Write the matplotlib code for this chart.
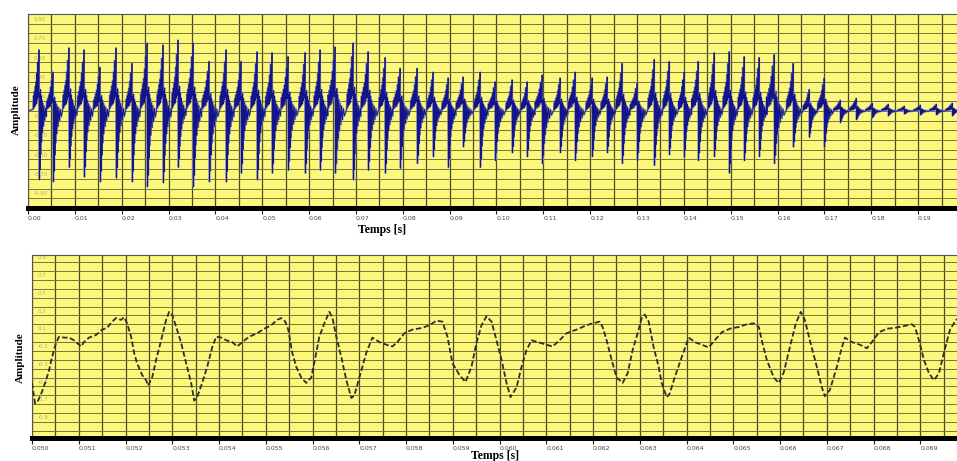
import matplotlib
matplotlib.use("Agg")
import matplotlib.pyplot as plt
import numpy as np

# ---- full utterance: one entry per glottal cycle (time of main peak, s) ----
spike_t = [0.00235, 0.00534, 0.00875, 0.01196, 0.01537, 0.01879, 0.02220, 0.02541,
           0.02882, 0.03202, 0.03523, 0.03864, 0.04227, 0.04547, 0.04889, 0.05209,
           0.05551, 0.05914, 0.06234, 0.06554, 0.06938, 0.07259, 0.07622, 0.07942,
           0.08305, 0.08646, 0.08967, 0.09287, 0.09650, 0.09970, 0.10333, 0.10653,
           0.10974, 0.11358, 0.11678, 0.12041, 0.12361, 0.12681, 0.13002, 0.13365,
           0.13685, 0.14005, 0.14304, 0.14646, 0.14966, 0.15286, 0.15606, 0.15926,
           0.16332, 0.16674, 0.16994, 0.17336, 0.17677, 0.18019, 0.18360, 0.18702,
           0.19044, 0.19385, 0.19727]
spike_pos = [0.63, 0.40, 0.65, 0.63, 0.45, 0.65, 0.49, 0.70, 0.68, 0.73, 0.70, 0.51,
             0.63, 0.51, 0.61, 0.60, 0.56, 0.60, 0.63, 0.66, 0.70, 0.61, 0.55, 0.44,
             0.44, 0.40, 0.34, 0.35, 0.40, 0.30, 0.32, 0.30, 0.37, 0.34, 0.40, 0.34,
             0.35, 0.49, 0.29, 0.53, 0.51, 0.40, 0.51, 0.60, 0.61, 0.56, 0.55, 0.58,
             0.49, 0.22, 0.34, 0.11, 0.13, 0.08, 0.07, 0.05, 0.06, 0.07, 0.08]
spike_neg = [-0.71, -0.73, -0.58, -0.68, -0.73, -0.69, -0.73, -0.78, -0.74, -0.58,
             -0.78, -0.73, -0.73, -0.64, -0.71, -0.64, -0.61, -0.64, -0.61, -0.64,
             -0.71, -0.61, -0.64, -0.59, -0.54, -0.47, -0.58, -0.37, -0.58, -0.51,
             -0.43, -0.47, -0.54, -0.43, -0.51, -0.47, -0.43, -0.54, -0.51, -0.56,
             -0.45, -0.47, -0.51, -0.47, -0.64, -0.51, -0.47, -0.54, -0.37, -0.27,
             -0.37, -0.12, -0.09, -0.07, -0.05, -0.03, -0.04, -0.04, -0.05]

# relative shape of one cycle: position as fraction of the period, weight of peak
cycle_frac = [-0.42, -0.39, -0.36, -0.33, -0.30, -0.27, -0.24, -0.21, -0.18, -0.15,
              -0.12, -0.09, -0.06, -0.03, 0.00, 0.025, 0.05, 0.075, 0.10, 0.125,
              0.15, 0.18, 0.21, 0.24, 0.28, 0.32, 0.36, 0.41, 0.46, 0.52]
cycle_w = [0.03, 0.25, 0.05, 0.32, 0.08, 0.40, 0.10, 0.48, 0.12, 0.62,
           0.18, 0.80, 0.22, 0.45, 1.00, -1.00, 0.30, -0.85, 0.35, -0.62,
           0.25, -0.45, 0.18, -0.32, 0.12, -0.22, 0.08, -0.14, 0.04, -0.08]

# ---- zoomed excerpt 0.050 - 0.070 s (time in ms, amplitude) ----
zoom_ms = [50.000, 50.064, 50.128, 50.214, 50.300, 50.364, 50.428, 50.514, 50.578, 50.685,
           50.792, 50.899, 50.964, 51.049, 51.113, 51.221, 51.370, 51.499, 51.606, 51.713,
           51.799, 51.906, 51.970, 52.034, 52.120, 52.184, 52.248, 52.355, 52.441, 52.484,
           52.570, 52.655, 52.762, 52.869, 52.934, 52.998, 53.084, 53.191, 53.298, 53.405,
           53.469, 53.533, 53.640, 53.747, 53.854, 53.940, 54.047, 54.154, 54.283, 54.390,
           54.497, 54.647, 54.818, 54.968, 55.118, 55.246, 55.332, 55.418, 55.482, 55.567,
           55.653, 55.760, 55.867, 55.974, 56.081, 56.146, 56.253, 56.360, 56.424, 56.510,
           56.617, 56.724, 56.831, 56.895, 57.002, 57.152, 57.281, 57.430, 57.580, 57.709,
           57.816, 57.966, 58.137, 58.351, 58.501, 58.651, 58.779, 58.887, 58.994, 59.143,
           59.272, 59.400, 59.507, 59.615, 59.722, 59.829, 59.936, 60.043, 60.150, 60.236,
           60.364, 60.471, 60.578, 60.685, 60.814, 61.006, 61.135, 61.285, 61.435, 61.649,
           61.863, 61.991, 62.141, 62.206, 62.291, 62.398, 62.505, 62.634, 62.741, 62.848,
           62.955, 63.041, 63.105, 63.191, 63.298, 63.405, 63.469, 63.576, 63.640, 63.747,
           63.897, 64.047, 64.176, 64.325, 64.475, 64.604, 64.754, 64.925, 65.118, 65.289,
           65.439, 65.546, 65.610, 65.717, 65.867, 65.974, 66.081, 66.210, 66.338, 66.445,
           66.531, 66.638, 66.788, 66.895, 66.959, 67.066, 67.216, 67.323, 67.388, 67.537,
           67.709, 67.859, 67.966, 68.116, 68.287, 68.458, 68.651, 68.822, 68.887, 68.972,
           69.079, 69.186, 69.293, 69.400, 69.507, 69.636, 69.743, 69.786]
zoom_amp = [-0.46, -0.69, -0.66, -0.56, -0.43, -0.32, -0.17, -0.01, 0.06, 0.05,
            0.05, 0.02, -0.01, -0.05, 0.00, 0.05, 0.08, 0.14, 0.16, 0.23,
            0.27, 0.25, 0.28, 0.21, 0.06, -0.12, -0.24, -0.37, -0.43, -0.49,
            -0.40, -0.20, 0.02, 0.25, 0.34, 0.31, 0.17, -0.01, -0.24, -0.46,
            -0.66, -0.62, -0.46, -0.28, -0.06, 0.06, 0.05, 0.02, 0.00, -0.05,
            0.00, 0.06, 0.10, 0.15, 0.19, 0.25, 0.27, 0.23, 0.14, -0.12,
            -0.28, -0.40, -0.46, -0.40, -0.12, 0.06, 0.21, 0.34, 0.28, 0.06,
            -0.17, -0.43, -0.63, -0.60, -0.40, -0.12, 0.05, 0.00, -0.03, -0.05,
            0.00, 0.10, 0.14, 0.16, 0.19, 0.24, 0.23, 0.06, -0.24, -0.37,
            -0.45, -0.28, -0.01, 0.19, 0.29, 0.23, 0.02, -0.20, -0.46, -0.62,
            -0.51, -0.28, -0.09, 0.02, 0.00, -0.03, -0.05, 0.02, 0.10, 0.14,
            0.19, 0.21, 0.23, 0.17, 0.02, -0.20, -0.40, -0.46, -0.35, -0.09,
            0.10, 0.27, 0.31, 0.23, -0.06, -0.28, -0.46, -0.62, -0.58, -0.40,
            -0.17, 0.05, 0.00, -0.03, -0.06, 0.02, 0.11, 0.15, 0.17, 0.20,
            0.21, 0.17, 0.02, -0.20, -0.40, -0.46, -0.34, -0.06, 0.21, 0.34,
            0.25, 0.02, -0.28, -0.51, -0.61, -0.54, -0.28, -0.06, 0.05, 0.00,
            -0.03, -0.07, 0.00, 0.11, 0.15, 0.16, 0.18, 0.20, 0.17, 0.02,
            -0.20, -0.35, -0.43, -0.35, -0.12, 0.14, 0.23, 0.26]

top_ticks = [0.00, 0.01, 0.02, 0.03, 0.04, 0.05, 0.06, 0.07, 0.08, 0.09,
             0.10, 0.11, 0.12, 0.13, 0.14, 0.15, 0.16, 0.17, 0.18, 0.19]
bottom_ticks_ms = [50, 51, 52, 53, 54, 55, 56, 57, 58, 59,
                   60, 61, 62, 63, 64, 65, 66, 67, 68, 69]
top_ylabels = [0.9, 0.7, 0.5, 0.3, 0.1, -0.1, -0.3, -0.5, -0.7, -0.9]
bottom_ylabels = [0.9, 0.7, 0.5, 0.3, 0.1, -0.1, -0.3, -0.5, -0.7, -0.9]

# ---- build the waveform of the full utterance from the cycle table ----
wt, wv = [0.0], [0.0]
for k, s in enumerate(spike_t):
    period = (spike_t[k + 1] - s) if k + 1 < len(spike_t) else (s - spike_t[k - 1])
    for f, w in zip(cycle_frac, cycle_w):
        wt.append(s + f * period)
        wv.append(w * spike_pos[k] if w >= 0 else -w * spike_neg[k])
wt = np.array(wt)
wv = np.array(wv)
order = np.argsort(wt)
wt, wv = wt[order], wv[order]

YELLOW = "#fbf87c"
GRID_V = "#4a4a28"
GRID_H = "#76743f"

fig = plt.figure(figsize=(9.57, 4.61), dpi=100)
fig.patch.set_facecolor("white")

W, H = 957.0, 461.0
ax1 = fig.add_axes([28 / W, 1 - 208 / H, 1 - 28 / W, (208 - 14) / H])
ax2 = fig.add_axes([32 / W, 1 - 438 / H, 1 - 32 / W, (438 - 255) / H])


def style(ax, xlim, ylim, vgrid, hgrid, major, minor, labels, ylab_vals, ylab_fmt):
    ax.set_facecolor(YELLOW)
    ax.set_xlim(*xlim)
    ax.set_ylim(*ylim)
    for x in vgrid:
        ax.axvline(x, color=GRID_V, lw=0.9, zorder=1)
    for y in hgrid:
        ax.axhline(y, color=GRID_H, lw=0.7, zorder=1)
    ax.set_xticks(major)
    ax.set_xticks(minor, minor=True)
    ax.set_xticklabels(labels, fontsize=4.5, color="#444444")
    for lbl in ax.get_xticklabels():
        lbl.set_ha("left")
    ax.tick_params(axis="x", which="major", length=4, width=0.8, color="#222222", pad=1.5)
    ax.tick_params(axis="x", which="minor", length=1.5, width=0.6, color="#555555")
    ax.set_yticks([])
    for side in ("top", "left"):
        ax.spines[side].set_color("#555555")
        ax.spines[side].set_linewidth(0.8)
    ax.spines["right"].set_visible(False)
    ax.spines["bottom"].set_color("black")
    ax.spines["bottom"].set_linewidth(3.6)
    for v in ylab_vals:
        ax.text(0.006, v + 0.01 * (ylim[1] - ylim[0]), ylab_fmt.format(v),
                transform=ax.get_yaxis_transform(), fontsize=4, color="#b9b070",
                va="bottom", ha="left", zorder=2)


style(ax1, (0.0, 0.1983), (-1.0, 1.0),
      np.arange(0.0, 0.2, 0.005), np.round(np.arange(-0.9, 0.95, 0.1), 2),
      top_ticks, np.arange(0.0, 0.1983, 0.001),
      ["{:.2f}".format(v) for v in top_ticks], top_ylabels, "{:.2f}")

style(ax2, (50.0, 69.786), (-1.08, 0.98),
      np.arange(50.0, 70.0, 0.5), np.round(np.arange(-1.0, 0.95, 0.1), 2),
      bottom_ticks_ms, np.arange(50.0, 69.786, 0.1),
      ["{:.3f}".format(v / 1000) for v in bottom_ticks_ms], bottom_ylabels, "{:.1f}")

# full utterance
ax1.plot(wt, wv, color="#8088bb", lw=1.4, alpha=0.75, zorder=3)
ax1.plot(wt, wv, color="#14148a", lw=0.6, zorder=4)

# zoomed excerpt
ax2.plot(zoom_ms, zoom_amp, color="#2e2e2e", lw=1.3, dashes=(3.0, 1.4), zorder=3)

serif = ["Liberation Serif", "DejaVu Serif"]
fig.text(16 / W, 1 - 110 / H, "Amplitude", rotation=90, fontsize=8, fontweight="bold",
         family=serif, ha="center", va="center")
fig.text(20 / W, 1 - 358 / H, "Amplitude", rotation=90, fontsize=8, fontweight="bold",
         family=serif, ha="center", va="center")
fig.text(382 / W, 1 - 230 / H, "Temps [s]", fontsize=8.5, fontweight="bold",
         family=serif, ha="center", va="center")
fig.text(495 / W, 1 - 456 / H, "Temps [s]", fontsize=8.5, fontweight="bold",
         family=serif, ha="center", va="center")

fig.savefig("out.png", dpi=100, facecolor="white")
